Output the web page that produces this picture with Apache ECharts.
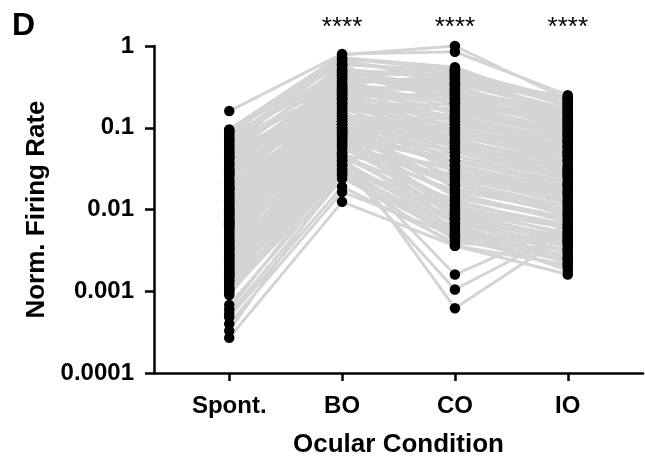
<!DOCTYPE html>
<html>
<head>
<meta charset="utf-8">
<script src="https://cdn.jsdelivr.net/npm/echarts@6/dist/echarts.min.js"></script>
<style>html,body{margin:0;padding:0;background:#fff}#c{width:645px;height:456px}</style>
</head>
<body>
<div id="c"></div>
<script>
var categories = ['Spont.', 'BO', 'CO', 'IO'];
var yTickLabels = ['0.0001', '0.001', '0.01', '0.1', '1'];
var sigLabels = ['', '****', '****', '****'];

var spont = [
 0.16, 0.095, 0.09, 0.085, 0.08, 0.075, 0.07, 0.066, 0.062, 0.058,
 0.055, 0.05, 0.047, 0.044, 0.041, 0.038, 0.035, 0.033, 0.031, 0.029,
 0.027, 0.025, 0.023, 0.021, 0.02, 0.019, 0.018, 0.017, 0.016, 0.015,
 0.014, 0.013, 0.012, 0.011, 0.0105, 0.01, 0.0095, 0.009, 0.0085, 0.008,
 0.0075, 0.007, 0.0066, 0.0062, 0.0058, 0.0055, 0.005, 0.0047, 0.0044, 0.0041,
 0.0038, 0.0035, 0.0033, 0.0031, 0.0029, 0.0027, 0.0025, 0.0023, 0.0021, 0.002,
 0.0019, 0.0018, 0.0017, 0.0016, 0.0015, 0.0014, 0.0013, 0.0012, 0.0011, 0.00105,
 0.001, 0.00095, 0.0009, 0.00068, 0.0006, 0.00053, 0.00048, 0.0004, 0.00033, 0.00027,
 0.092, 0.072, 0.06, 0.052, 0.043, 0.036, 0.03, 0.026, 0.022, 0.0185,
 0.0155, 0.0135, 0.0115, 0.0098, 0.0088, 0.0078, 0.0068, 0.006, 0.0052, 0.0045,
 0.004, 0.0036, 0.0032, 0.0028, 0.0024, 0.0022, 0.00195, 0.00175, 0.00155, 0.00135,
 0.0125, 0.028, 0.045, 0.0072, 0.0034, 0.0016, 0.0011, 0.018, 0.0064, 0.0026
];
var bo = [
 0.8, 0.78, 0.6, 0.72, 0.5, 0.45, 0.65, 0.55, 0.4, 0.7,
 0.35, 0.48, 0.3, 0.6, 0.28, 0.42, 0.25, 0.38, 0.22, 0.5,
 0.32, 0.2, 0.45, 0.18, 0.27, 0.16, 0.36, 0.15, 0.24, 0.14,
 0.3, 0.13, 0.21, 0.12, 0.19, 0.11, 0.26, 0.1, 0.17, 0.095,
 0.23, 0.09, 0.14, 0.085, 0.2, 0.08, 0.12, 0.075, 0.16, 0.07,
 0.1, 0.065, 0.13, 0.06, 0.09, 0.055, 0.11, 0.05, 0.08, 0.046,
 0.07, 0.042, 0.095, 0.038, 0.06, 0.035, 0.05, 0.032, 0.075, 0.03,
 0.045, 0.028, 0.04, 0.026, 0.035, 0.024, 0.019, 0.0164, 0.03, 0.0124,
 0.62, 0.68, 0.33, 0.52, 0.58, 0.29, 0.44, 0.26, 0.34, 0.4,
 0.18, 0.23, 0.15, 0.28, 0.11, 0.2, 0.09, 0.17, 0.12, 0.065,
 0.14, 0.1, 0.058, 0.085, 0.048, 0.11, 0.04, 0.07, 0.034, 0.055,
 0.31, 0.47, 0.25, 0.13, 0.044, 0.062, 0.027, 0.22, 0.078, 0.036
];
var co = [
 0.85, 1.0, 0.5, 0.55, 0.3, 0.45, 0.4, 0.25, 0.35, 0.52,
 0.2, 0.42, 0.15, 0.48, 0.32, 0.12, 0.22, 0.38, 0.1, 0.28,
 0.18, 0.08, 0.33, 0.14, 0.06, 0.2, 0.09, 0.05, 0.26, 0.11,
 0.16, 0.04, 0.07, 0.13, 0.03, 0.085, 0.24, 0.035, 0.065, 0.1,
 0.045, 0.025, 0.075, 0.02, 0.17, 0.055, 0.018, 0.04, 0.028, 0.015,
 0.06, 0.012, 0.095, 0.022, 0.01, 0.033, 0.014, 0.00062, 0.009, 0.027,
 0.008, 0.0016, 0.02, 0.0075, 0.016, 0.00105, 0.007, 0.011, 0.0065, 0.006,
 0.013, 0.0045, 0.0055, 0.0036, 0.0042, 0.005, 0.0039, 0.0048, 0.0052, 0.0036,
 0.46, 0.36, 0.27, 0.4, 0.19, 0.34, 0.23, 0.13, 0.44, 0.3,
 0.09, 0.16, 0.06, 0.21, 0.05, 0.14, 0.035, 0.11, 0.07, 0.02,
 0.08, 0.045, 0.011, 0.04, 0.0085, 0.065, 0.0058, 0.03, 0.0068, 0.017,
 0.29, 0.5, 0.055, 0.1, 0.0095, 0.024, 0.0047, 0.12, 0.038, 0.0078
];
var io = [
 0.25, 0.22, 0.2, 0.18, 0.12, 0.15, 0.24, 0.1, 0.16, 0.2,
 0.09, 0.14, 0.08, 0.19, 0.11, 0.06, 0.13, 0.17, 0.05, 0.1,
 0.085, 0.04, 0.12, 0.07, 0.03, 0.11, 0.045, 0.025, 0.09, 0.06,
 0.075, 0.02, 0.035, 0.065, 0.015, 0.05, 0.1, 0.018, 0.04, 0.055,
 0.02, 0.012, 0.03, 0.01, 0.08, 0.028, 0.009, 0.022, 0.014, 0.008,
 0.032, 0.0065, 0.045, 0.011, 0.006, 0.016, 0.0075, 0.005, 0.0045, 0.013,
 0.004, 0.0065, 0.0085, 0.0035, 0.007, 0.0055, 0.003, 0.0048, 0.0025, 0.0022,
 0.0058, 0.002, 0.0018, 0.0016, 0.0024, 0.0028, 0.0033, 0.0038, 0.0042, 0.0021,
 0.21, 0.17, 0.13, 0.15, 0.09, 0.23, 0.11, 0.07, 0.19, 0.14,
 0.048, 0.085, 0.033, 0.12, 0.026, 0.066, 0.017, 0.058, 0.038, 0.011,
 0.044, 0.024, 0.006, 0.019, 0.0045, 0.03, 0.0032, 0.016, 0.0038, 0.0095,
 0.16, 0.22, 0.027, 0.052, 0.0052, 0.0125, 0.0026, 0.07, 0.021, 0.0042
];

var conditions = [spont, bo, co, io];
var FONT = '"Liberation Sans", Arial, Helvetica, sans-serif';

var series = [];
for (var i = 0; i < spont.length; i++) {
  series.push({
    type: 'line',
    data: conditions.map(function (arr, k) { return [k, arr[i]]; }),
    showSymbol: false,
    symbol: 'none',
    silent: true,
    z: 1,
    lineStyle: { color: '#d4d4d4', width: 3 }
  });
}
conditions.forEach(function (arr, k) {
  series.push({
    type: 'scatter',
    data: arr.map(function (v) { return [k, v]; }),
    symbol: 'circle',
    symbolSize: 10.5,
    z: 5,
    itemStyle: { color: '#000', opacity: 1 },
    silent: true
  });
});

var chart = echarts.init(document.getElementById('c'), null, { renderer: 'canvas' });
chart.setOption({
  animation: false,
  backgroundColor: '#fff',
  grid: { left: 154, right: 2, top: 46, bottom: 83, containLabel: false, outerBoundsMode: 'none' },
  xAxis: {
    type: 'value',
    min: -2 / 3,
    max: 11 / 3,
    name: 'Ocular Condition',
    nameLocation: 'middle',
    nameGap: 59,
    nameTextStyle: { fontFamily: FONT, fontWeight: 'bold', fontSize: 26, color: '#000' },
    axisLine: { onZero: false, lineStyle: { color: '#000', width: 2.5 } },
    axisTick: { show: true, customValues: [0, 1, 2, 3], length: 8, lineStyle: { color: '#000', width: 2.5 } },
    axisLabel: {
      customValues: [0, 1, 2, 3],
      margin: 21,
      fontFamily: FONT, fontWeight: 'bold', fontSize: 24, color: '#000',
      formatter: function (v) { return categories[Math.round(v)]; }
    },
    splitLine: { show: false }
  },
  yAxis: {
    type: 'log',
    logBase: 10,
    min: 0.0001,
    max: 1,
    name: 'Norm. Firing Rate',
    nameLocation: 'middle',
    nameGap: 104,
    nameTextStyle: { fontFamily: FONT, fontWeight: 'bold', fontSize: 26, color: '#000' },
    axisLine: { show: true, onZero: false, lineStyle: { color: '#000', width: 2.5 } },
    axisTick: { show: true, length: 9, lineStyle: { color: '#000', width: 2.5 } },
    axisLabel: {
      margin: 20,
      fontFamily: FONT, fontWeight: 'bold', fontSize: 24, color: '#000',
      formatter: function (v) { return yTickLabels[Math.round(Math.log10(v)) + 4]; }
    },
    splitLine: { show: false }
  },
  series: series
});

var graphics = [{
  type: 'text', left: 12, top: 10,
  style: { text: 'D', fontFamily: FONT, fontWeight: 'bold', fontSize: 32, fill: '#000' }
}];
sigLabels.forEach(function (s, k) {
  if (!s) return;
  var p = chart.convertToPixel({ gridIndex: 0 }, [k, 1]);
  graphics.push({
    type: 'text', x: p[0], y: p[1] - 18,
    style: { text: s, fontFamily: FONT, fontSize: 26, fill: '#000', align: 'center', verticalAlign: 'middle' }
  });
});
chart.setOption({ graphic: graphics });
</script>
</body>
</html>
